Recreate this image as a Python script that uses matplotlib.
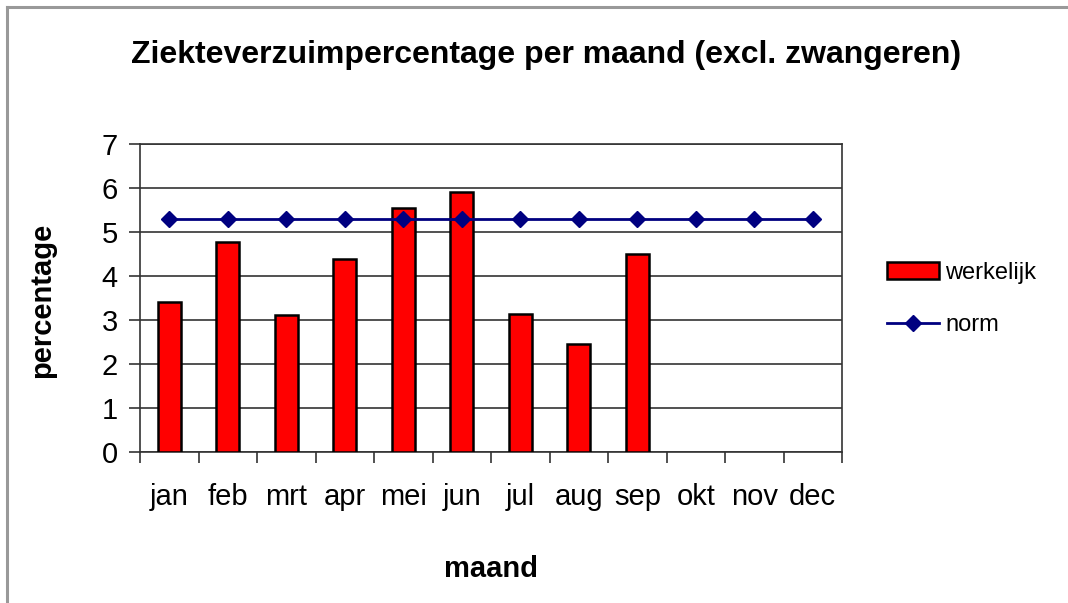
import matplotlib
matplotlib.use("Agg")
import matplotlib.pyplot as plt
from matplotlib.lines import Line2D
import numpy as np

months = ["jan", "feb", "mrt", "apr", "mei", "jun", "jul", "aug", "sep", "okt", "nov", "dec"]
werkelijk = [3.40, 4.77, 3.11, 4.39, 5.55, 5.91, 3.14, 2.46, 4.50]
norm = [5.3] * 12
yticks = [0, 1, 2, 3, 4, 5, 6, 7]

plt.rcParams['font.family'] = ['Liberation Sans', 'DejaVu Sans']

W, H = 1068, 603
fig = plt.figure(figsize=(W / 100, H / 100), dpi=100)
fig.patch.set_facecolor("white")

# chart area border (top and left)
fig.add_artist(Line2D([7 / W, 1.0], [1 - 7 / H, 1 - 7 / H], color="#999999", lw=2.2, transform=fig.transFigure))
fig.add_artist(Line2D([7 / W, 7 / W], [0.0, 1 - 7 / H], color="#999999", lw=2.2, transform=fig.transFigure))

ax = fig.add_axes([140 / W, (H - 452) / H, (842 - 140) / W, (452 - 144) / H])

x = np.arange(len(months))
bars = ax.bar(x[:len(werkelijk)], werkelijk, width=0.4, color="#ff0000", edgecolor="black",
              linewidth=1.8, label="werkelijk", zorder=3)
line, = ax.plot(x, norm, color="#000080", lw=2, marker="D", markersize=8,
                markerfacecolor="#000080", markeredgecolor="#000080", label="norm", zorder=4)

ax.set_xlim(-0.5, 11.5)
ax.set_ylim(0, 7)
ax.set_yticks(yticks)
ax.set_yticklabels([str(t) for t in yticks], fontsize=21)
ax.yaxis.grid(True, color="#333333", lw=1.2, zorder=0)
ax.set_axisbelow(True)

ax.set_xticks(np.arange(-0.5, 12, 1.0))
ax.set_xticklabels([])
ax.set_xticks(x, minor=True)
ax.set_xticklabels(months, minor=True, fontsize=21)
ax.tick_params(axis="x", which="minor", length=0, pad=22)
ax.tick_params(axis="x", which="major", length=8, width=1.2, color="#333333", direction="out")
ax.tick_params(axis="y", length=8, width=1.2, color="#333333", direction="out", pad=8)

for s in ax.spines.values():
    s.set_color("#333333")
    s.set_linewidth(1.2)

fig.text(42 / W, 1 - 300 / H, "percentage", rotation=90, ha="center", va="center",
         fontsize=21, fontweight="bold")
fig.text(491 / W, 1 - 569 / H, "maand", ha="center", va="center",
         fontsize=21, fontweight="bold")

fig.text(546 / W, 1 - 55 / H, "Ziekteverzuimpercentage per maand (excl. zwangeren)",
         ha="center", va="center", fontsize=23, fontweight="bold")

leg = fig.legend([bars, line], ["werkelijk", "norm"], loc="center left",
                 bbox_to_anchor=(866 / W, 1 - 299 / H), frameon=False,
                 fontsize=17, handlelength=2.2, labelspacing=1.3, handletextpad=0.25)

fig.savefig("out.png", dpi=100, facecolor="white")
